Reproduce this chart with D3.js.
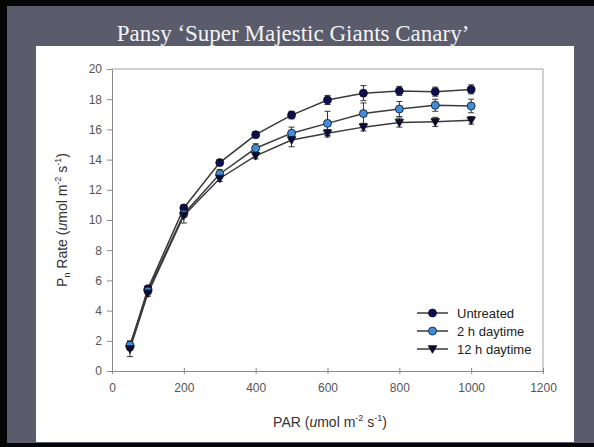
<!DOCTYPE html>
<html>
<head>
<meta charset="utf-8">
<script src="https://cdn.jsdelivr.net/npm/d3@7"></script>
<style>
  html, body { margin: 0; padding: 0; background: #000; }
  svg { display: block; }
</style>
</head>
<body>
<div id="graph"></div>
<script>
// PAR levels and mean Pn rate per treatment
const par = [50, 100, 200, 300, 400, 500, 600, 700, 800, 900, 1000];
const untreated = [1.6, 5.45, 10.8, 13.8, 15.65, 16.95, 17.95, 18.4, 18.55, 18.5, 18.65];
const twoHour = [1.7, 5.3, 10.4, 13.05, 14.75, 15.75, 16.4, 17.05, 17.35, 17.6, 17.55];
const twelveHour = [1.45, 5.15, 10.3, 12.75, 14.25, 15.3, 15.75, 16.15, 16.45, 16.5, 16.6];
const untreatedErr = [0.2, 0.2, 0.2, 0.2, 0.2, 0.25, 0.3, 0.5, 0.3, 0.3, 0.3];
const twoHourErr = [0.3, 0.2, 0.2, 0.3, 0.3, 0.4, 0.8, 0.7, 0.5, 0.4, 0.45];
const twelveHourErr = [0.5, 0.2, 0.5, 0.2, 0.2, 0.45, 0.25, 0.25, 0.3, 0.3, 0.25];
const xTicks = [0, 200, 400, 600, 800, 1000, 1200];
const yTicks = [0, 2, 4, 6, 8, 10, 12, 14, 16, 18, 20];
const seriesNames = ["Untreated", "2 h daytime", "12 h daytime"];

const W = 594, H = 447;
const svg = d3.select("#graph").append("svg").attr("width", W).attr("height", H);

// slide background
svg.append("rect").attr("width", W).attr("height", H).attr("fill", "#050505");
svg.append("rect").attr("x", 7).attr("y", 6).attr("width", W - 7).attr("height", 437).attr("fill", "#5a5c6c");
svg.append("rect").attr("x", 36).attr("y", 46).attr("width", 538).attr("height", 396).attr("fill", "#ffffff");

svg.append("text")
  .attr("x", 293).attr("y", 41)
  .attr("text-anchor", "middle")
  .style("font-family", "'Liberation Serif', 'Times New Roman', serif")
  .style("font-size", "23px")
  .attr("fill", "#f4f4f4")
  .text("Pansy \u2018Super Majestic Giants Canary\u2019");

const pLeft = 112, pRight = 543, pTop = 69, pBottom = 371;
const x = d3.scaleLinear().domain([0, 1200]).range([pLeft, pRight]);
const y = d3.scaleLinear().domain([0, 20]).range([pBottom, pTop]);

const g = svg.append("g");
const axisColor = "#8a8a8a";
const fontSans = "'Liberation Sans', Arial, sans-serif";

// frame top and right
g.append("line").attr("x1", pLeft).attr("x2", pRight).attr("y1", pTop).attr("y2", pTop).attr("stroke", "#a0a0a0");
g.append("line").attr("x1", pRight).attr("x2", pRight).attr("y1", pTop).attr("y2", pBottom).attr("stroke", "#a0a0a0");

const xAxis = g.append("g").attr("transform", `translate(0,${pBottom})`)
  .call(d3.axisBottom(x).tickValues(xTicks).tickFormat(d3.format("d")).tickSize(3).tickPadding(9.5).tickSizeOuter(0));
xAxis.selectAll(".tick line").attr("y1", -3);
const yAxis = g.append("g").attr("transform", `translate(${pLeft},0)`)
  .call(d3.axisLeft(y).tickValues(yTicks).tickFormat(d3.format("d")).tickSize(5).tickPadding(5).tickSizeOuter(0));
[xAxis, yAxis].forEach(a => {
  a.select(".domain").attr("stroke", axisColor);
  a.selectAll(".tick line").attr("stroke", axisColor);
  a.selectAll(".tick text").attr("fill", "#555").style("font-family", fontSans).style("font-size", "12px");
});

// axis titles
const xt = g.append("text").attr("x", 330).attr("y", 427).attr("text-anchor", "middle")
  .style("font-family", fontSans).style("font-size", "14px").attr("fill", "#333");
xt.append("tspan").text("PAR (");
xt.append("tspan").style("font-style", "italic").text("u");
xt.append("tspan").text("mol m");
xt.append("tspan").attr("dy", -6).style("font-size", "9px").text("-2");
xt.append("tspan").attr("dy", 6).text(" s");
xt.append("tspan").attr("dy", -6).style("font-size", "9px").text("-1");
xt.append("tspan").attr("dy", 6).text(")");

const yt = g.append("text").attr("transform", "translate(67,220) rotate(-90)").attr("text-anchor", "middle")
  .style("font-family", fontSans).style("font-size", "14px").attr("fill", "#333");
yt.append("tspan").text("P");
yt.append("tspan").attr("dy", 3).style("font-size", "9px").text("n");
yt.append("tspan").attr("dy", -3).text(" Rate (");
yt.append("tspan").style("font-style", "italic").text("u");
yt.append("tspan").text("mol m");
yt.append("tspan").attr("dy", -6).style("font-size", "9px").text("-2");
yt.append("tspan").attr("dy", 6).text(" s");
yt.append("tspan").attr("dy", -6).style("font-size", "9px").text("-1");
yt.append("tspan").attr("dy", 6).text(")");

const series = [
  { name: seriesNames[0], vals: untreated, err: untreatedErr, fill: "#0b0d55", shape: "circle" },
  { name: seriesNames[1], vals: twoHour, err: twoHourErr, fill: "#3b8fe0", shape: "circle" },
  { name: seriesNames[2], vals: twelveHour, err: twelveHourErr, fill: "#0a0b3c", shape: "triangle" }
];

const line = d3.line().x((d, i) => x(par[i])).y(d => y(d));
const triPath = "M-4.3,-3.3L4.3,-3.3L0,4.3Z";

function marker(sel, s) {
  if (s.shape === "circle") {
    sel.append("circle").attr("r", 4).attr("fill", s.fill).attr("stroke", "#111").attr("stroke-width", 0.8);
  } else {
    sel.append("path").attr("d", triPath).attr("fill", s.fill).attr("stroke", "#111").attr("stroke-width", 0.8);
  }
}

// lines first
series.forEach(s => {
  g.append("path").datum(s.vals).attr("d", line)
    .attr("fill", "none").attr("stroke", "#3a3a3a").attr("stroke-width", 1.5);
});

// error bars
series.forEach(s => {
  s.vals.forEach((v, i) => {
    const cx = x(par[i]);
    const eb = g.append("g").attr("stroke", "#333").attr("stroke-width", 1);
    eb.append("line").attr("x1", cx).attr("x2", cx).attr("y1", y(v - s.err[i])).attr("y2", y(v + s.err[i]));
    [v - s.err[i], v + s.err[i]].forEach(e => {
      eb.append("line").attr("x1", cx - 3).attr("x2", cx + 3).attr("y1", y(e)).attr("y2", y(e));
    });
  });
});

// markers
series.forEach(s => {
  s.vals.forEach((v, i) => {
    const m = g.append("g").attr("transform", `translate(${x(par[i])},${y(v)})`);
    marker(m, s);
  });
});

// legend
const legend = g.append("g").attr("transform", "translate(417,313)");
series.forEach((s, i) => {
  const row = legend.append("g").attr("transform", `translate(0,${i * 18})`);
  row.append("line").attr("x1", 0).attr("x2", 31).attr("stroke", "#3a3a3a").attr("stroke-width", 1.5);
  const m = row.append("g").attr("transform", "translate(15.5,0)");
  marker(m, s);
  row.append("text").attr("x", 40).attr("y", 4.5)
    .style("font-family", fontSans).style("font-size", "13px").attr("fill", "#222")
    .text(s.name);
});
</script>
</body>
</html>
